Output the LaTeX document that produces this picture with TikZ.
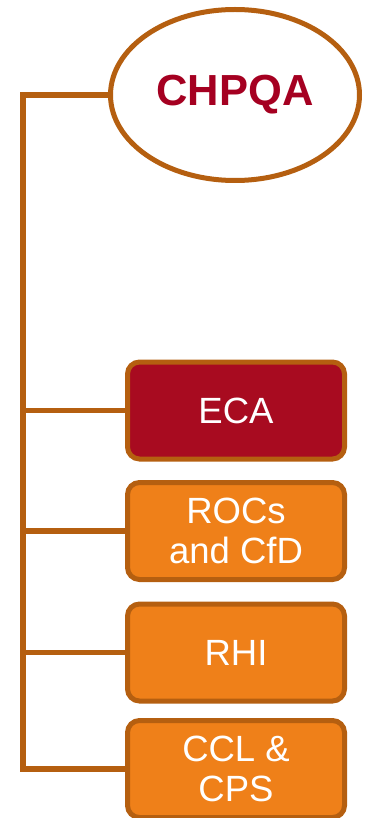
\documentclass[tikz,border=0pt]{standalone}
\usepackage{fontspec}
\setmainfont{Liberation Sans}
\usetikzlibrary{shapes.geometric}
\definecolor{edge}{HTML}{B55F10}
\definecolor{ecared}{HTML}{A80B20}
\definecolor{orng}{HTML}{EF8019}
\definecolor{titlered}{HTML}{A50021}
\tikzset{
  conn/.style={draw=edge, line width=5.5pt, line join=miter, line cap=rect},
  itembox/.style={draw=edge, line width=5pt, rounded corners=12pt, minimum width=217pt, minimum height=97pt, inner sep=0pt, text=white, font=\fontsize{36.5}{40}\selectfont, align=center},
}
\begin{document}
\begin{tikzpicture}[x=1pt,y=-1pt]
\useasboundingbox (0,0) rectangle (366,818);
\clip (0,0) rectangle (366,818);
\node[ellipse, draw=edge, line width=5pt, fill=white, minimum width=249pt, minimum height=171pt, inner sep=0pt, text=titlered, font=\fontsize{43.5}{48}\selectfont\bfseries] (chpqa) at (235,95) {CHPQA};
\node[itembox, fill=ecared] (eca) at (236,410.5) {ECA};
\node[itembox, fill=orng] (rocs) at (236,531) {ROCs\\and CfD};
\node[itembox, fill=orng] (rhi) at (236,652.5) {RHI};
\node[itembox, fill=orng] (ccl) at (236,769) {CCL \&\\CPS};
\coordinate (top) at (23,95);
\coordinate (bot) at (23,769);
\draw[conn] (chpqa.west) -- (top) -- (bot) -- (ccl.west);
\draw[conn] (top |- eca.west) -- (eca.west);
\draw[conn] (top |- rocs.west) -- (rocs.west);
\draw[conn] (top |- rhi.west) -- (rhi.west);
\end{tikzpicture}
\end{document}
